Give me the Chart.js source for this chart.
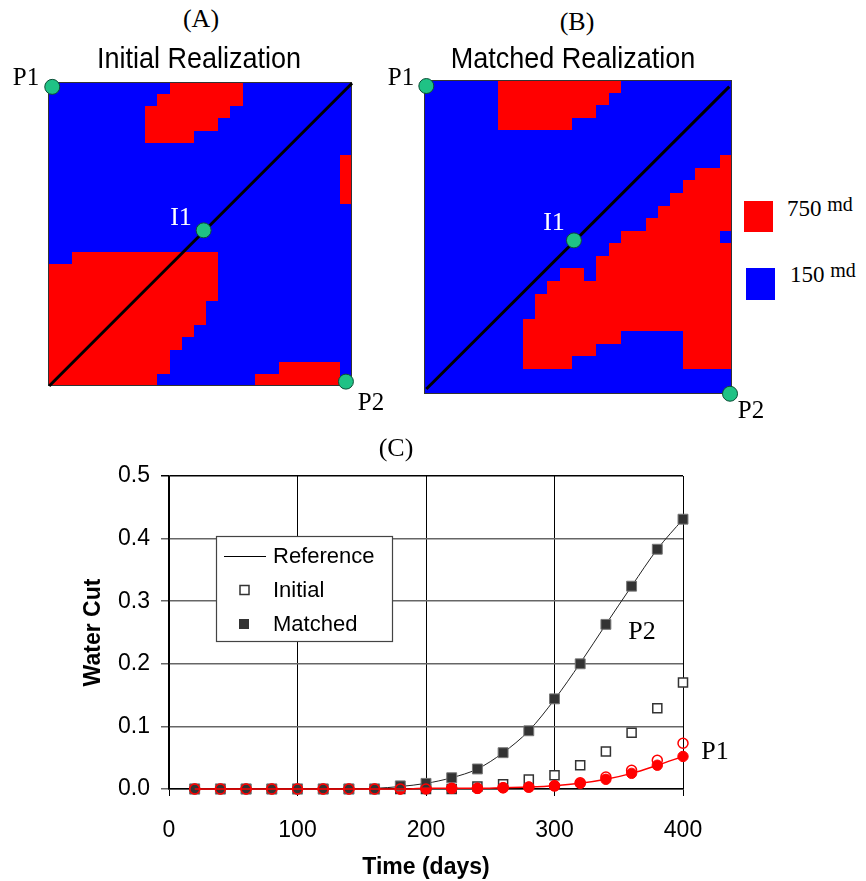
<!DOCTYPE html>
<html><head><meta charset="utf-8">
<script src="https://cdn.jsdelivr.net/npm/chart.js@4.4.1/dist/chart.umd.min.js"></script>
<style>
body{margin:0;background:#fff;width:866px;height:881px;position:relative;overflow:hidden;}
canvas{position:absolute;}
.t{position:absolute;white-space:nowrap;transform:translate(-50%,-50%);line-height:1;color:#000;z-index:5;}
.serif{font-family:"Liberation Serif","Times New Roman",serif;}
.sans{font-family:"Liberation Sans",Arial,sans-serif;}
.sw{position:absolute;}
</style></head><body>
<canvas id="mapA" width="324" height="324" style="left:38px;top:72px"></canvas>
<canvas id="mapB" width="328" height="334" style="left:414px;top:70px"></canvas>
<canvas id="cutC" width="866" height="461" style="left:0;top:420px"></canvas>

<div class="t serif" style="left:201px;top:19px;font-size:26px">(A)</div>
<div class="t sans" style="left:199px;top:58px;font-size:30px;transform:translate(-50%,-50%) scaleX(0.9)">Initial Realization</div>
<div class="t serif" style="left:577px;top:22px;font-size:26px">(B)</div>
<div class="t sans" style="left:573px;top:58px;font-size:30px;transform:translate(-50%,-50%) scaleX(0.9)">Matched Realization</div>
<div class="t serif" style="left:26px;top:76px;font-size:25px">P1</div>
<div class="t serif" style="left:401px;top:76px;font-size:25px">P1</div>
<div class="t serif" style="left:371px;top:401px;font-size:25px">P2</div>
<div class="t serif" style="left:751px;top:409px;font-size:25px">P2</div>
<div class="t serif" style="left:181px;top:217px;font-size:26px;color:#fff">I1</div>
<div class="t serif" style="left:554px;top:222px;font-size:26px;color:#fff">I1</div>
<div class="sw" style="left:744px;top:201px;width:29px;height:31px;background:#ff0000"></div>
<div class="sw" style="left:746px;top:268px;width:29px;height:32px;background:#0000ff"></div>
<div class="t serif" style="left:787px;top:207px;font-size:23px;transform:translate(0,-50%)">750 <span style="font-size:20px;vertical-align:5px">md</span></div>
<div class="t serif" style="left:790px;top:273px;font-size:23px;transform:translate(0,-50%)">150 <span style="font-size:20px;vertical-align:5px">md</span></div>
<div class="t serif" style="left:396px;top:448px;font-size:26px">(C)</div>
<div class="t serif" style="left:642px;top:631px;font-size:26px">P2</div>
<div class="t serif" style="left:715px;top:751px;font-size:26px">P1</div>

<script>
// ---------- permeability fields (row 0 = top), '#' = 750 md, '.' = 150 md ----------
const gridA = [
  "..........######.........",
  ".........#######.........",
  "........#######..........",
  "........######...........",
  "........####.............",
  ".........................",
  "........................#",
  "........................#",
  "........................#",
  "........................#",
  ".........................",
  ".........................",
  ".........................",
  ".........................",
  "..############...........",
  "##############...........",
  "##############...........",
  "##############...........",
  "#############............",
  "#############............",
  "############.............",
  "###########..............",
  "##########...............",
  "##########.........#####.",
  "#########........#######."
];
const gridB = [
  "......##########.........",
  "......#########..........",
  "......########...........",
  "......######.............",
  ".........................",
  ".........................",
  "........................#",
  "......................###",
  ".....................####",
  "....................#####",
  "...................######",
  "..................#######",
  "................########.",
  "...............##########",
  "..............###########",
  "...........##.###########",
  "..........###############",
  ".........################",
  ".........################",
  "........#################",
  "........########.....####",
  "........######.......####",
  "........####.........####",
  ".........................",
  "........................."
];
const permColors = {"#": "#ff0000", ".": "#0000ff"};
const wellsA = [{x:0.35,y:24.6},{x:12.8,y:12.8},{x:24.5,y:0.36}];
const wellsB = [{x:0.19,y:24.52},{x:12.17,y:12.23},{x:24.84,y:0.02}];
const diagA = [{x:0.1,y:0},{x:25,y:24.9}];
const diagB = [{x:0.19,y:0.4},{x:24.78,y:24.47}];

// ---------- water cut curves ----------
const days       = [20,40,60,80,100,120,140,160,180,200,220,240,260,280,300,320,340,360,380,400];
const refP2      = [0,0,0,0,0,0,0,0.001,0.004,0.009,0.018,0.032,0.058,0.093,0.143,0.201,0.263,0.324,0.383,0.431];
const matchedP2  = [0,0,0,0,0,0,0,0,0.005,0.009,0.018,0.032,0.058,0.093,0.144,0.200,0.263,0.324,0.383,0.431];
const initialP2  = [0,0,0,0,0,0,0,0,0,0,0,0.004,0.0075,0.015,0.022,0.038,0.060,0.090,0.129,0.170];
const refP1      = [0,0,0,0,0,0,0,0,0,0.001,0.001,0.001,0.002,0.003,0.005,0.009,0.0155,0.025,0.038,0.052];
const matchedP1  = [0,0,0,0,0,0,0,0,0,0.001,0.001,0.001,0.002,0.003,0.005,0.009,0.0155,0.025,0.038,0.052];
const initialP1  = [0,0,0,0,0,0,0,0,0,0,0.001,0.001,0.002,0.003,0.005,0.010,0.019,0.030,0.046,0.073];
const xTicks = [0,100,200,300,400];
const yTicks = [0,0.1,0.2,0.3,0.4,0.5];
const legendLabels = ["Reference","Initial","Matched"];

Chart.defaults.font.family = '"Liberation Sans", Arial, sans-serif';
Chart.defaults.color = '#000';

const cellsPlugin = {
  id: 'cells',
  beforeDatasetsDraw(chart, args, opts) {
    const g = opts.grid; if (!g) return;
    const {ctx, scales:{x, y}} = chart;
    const n = g.length;
    for (let r = 0; r < n; r++) {
      for (let c = 0; c < g[r].length; c++) {
        const x0 = Math.round(x.getPixelForValue(c)), x1 = Math.round(x.getPixelForValue(c+1));
        const y0 = Math.round(y.getPixelForValue(n - r)), y1 = Math.round(y.getPixelForValue(n - r - 1));
        ctx.fillStyle = permColors[g[r][c]];
        ctx.fillRect(x0, y0, x1 - x0, y1 - y0);
      }
    }
    const a = chart.chartArea;
    ctx.strokeStyle = '#333'; ctx.lineWidth = 1;
    ctx.strokeRect(Math.round(a.left)+0.5, Math.round(a.top)+0.5, Math.round(a.right-a.left)-1, Math.round(a.bottom-a.top)-1);
  }
};

function mapChart(id, grid, wells, diag) {
  return new Chart(document.getElementById(id), {
    type: 'scatter',
    data: { datasets: [
      { data: wells, pointRadius: 7.5, pointBackgroundColor: '#1fc285', pointBorderColor: '#0b4d35', pointBorderWidth: 1, showLine: false, clip: false, order: 1 },
      { data: diag, showLine: true, borderColor: '#000', borderWidth: 3, pointRadius: 0, clip: false, order: 2 }
    ]},
    options: {
      responsive: false, animation: false, devicePixelRatio: 1, events: [],
      layout: { padding: 10 },
      scales: { x: {type:'linear', min:0, max:25, display:false}, y: {type:'linear', min:0, max:25, display:false} },
      plugins: { legend: {display:false}, tooltip: {enabled:false}, cells: { grid } }
    },
    plugins: [cellsPlugin]
  });
}
mapChart('mapA', gridA, wellsA, diagA);
mapChart('mapB', gridB, wellsB, diagB);

const pts = arr => days.map((d, i) => ({x: d, y: arr[i]}));

const legendBox = {
  id: 'legendBox',
  afterDraw(chart) {
    const ctx = chart.ctx;
    const bx = 216, by = 116, bw = 176, bh = 105;
    ctx.save();
    ctx.fillStyle = '#fff'; ctx.fillRect(bx, by, bw, bh);
    ctx.strokeStyle = '#444'; ctx.lineWidth = 1.2; ctx.strokeRect(bx + 0.5, by + 0.5, bw, bh);
    ctx.font = '22px "Liberation Sans", Arial, sans-serif';
    ctx.fillStyle = '#000'; ctx.textBaseline = 'middle'; ctx.textAlign = 'left';
    const rows = [136, 170, 204];
    ctx.strokeStyle = '#000'; ctx.lineWidth = 1;
    ctx.beginPath(); ctx.moveTo(224, rows[0] + 0.5); ctx.lineTo(266, rows[0] + 0.5); ctx.stroke();
    ctx.strokeStyle = '#333'; ctx.lineWidth = 1.5; ctx.fillStyle = '#fff';
    ctx.fillRect(240, rows[1] - 4.5, 9, 9); ctx.strokeRect(240, rows[1] - 4.5, 9, 9);
    ctx.fillStyle = '#333'; ctx.fillRect(239, rows[2] - 5, 10, 10);
    ctx.fillStyle = '#000';
    legendLabels.forEach((t, i) => ctx.fillText(t, 273, rows[i] + 1));
    ctx.restore();
  }
};

new Chart(document.getElementById('cutC'), {
  type: 'scatter',
  data: { datasets: [
    { label: 'Reference P2', data: pts(refP2), showLine: true, borderColor: '#222', borderWidth: 1, pointRadius: 0, cubicInterpolationMode: 'monotone', clip: false, order: 6 },
    { label: 'Initial P2', data: pts(initialP2), showLine: false, pointStyle: 'rect', pointRadius: 6.4, pointBackgroundColor: '#fff', pointBorderColor: '#333', pointBorderWidth: 1.5, clip: false, order: 5 },
    { label: 'Matched P1', data: pts(matchedP1), showLine: false, pointStyle: 'circle', pointRadius: 5.2, pointBackgroundColor: '#ff0000', pointBorderColor: '#ff0000', pointBorderWidth: 1, clip: false, order: 4 },
    { label: 'Matched P2', data: pts(matchedP2), showLine: false, pointStyle: 'rect', pointRadius: 7, pointBackgroundColor: '#333', pointBorderColor: '#777', pointBorderWidth: 1, clip: false, order: 3 },
    { label: 'Initial P1', data: pts(initialP1), showLine: false, pointStyle: 'circle', pointRadius: 5, pointBackgroundColor: 'rgba(0,0,0,0)', pointBorderColor: '#ff0000', pointBorderWidth: 1.5, clip: false, order: 2 },
    { label: 'Reference P1', data: pts(refP1), showLine: true, borderColor: '#ff0000', borderWidth: 1.5, pointRadius: 0, cubicInterpolationMode: 'monotone', clip: false, order: 1 }
  ]},
  options: {
    responsive: false, animation: false, devicePixelRatio: 1, events: [],
    layout: { padding: { left: 0, top: 56, right: 183, bottom: 0 } },
    scales: {
      x: {
        type: 'linear', min: 0, max: 400,
        afterBuildTicks: s => { s.ticks = xTicks.map(v => ({value: v})); },
        afterFit: s => { s.height = 92; },
        grid: { color: '#000', lineWidth: 1, tickLength: 7, tickColor: '#000' },
        border: { color: '#000', width: 1.5 },
        ticks: { color: '#000', font: { size: 23 }, padding: 21, maxRotation: 0 },
        title: { display: true, text: 'Time (days)', color: '#000', font: { size: 23, weight: 'bold' }, padding: { top: 0, bottom: 0 } }
      },
      y: {
        type: 'linear', min: 0, max: 0.5,
        afterBuildTicks: s => { s.ticks = yTicks.map(v => ({value: v})); },
        afterFit: s => { s.width = 169; },
        grid: { color: c => (c.tick && c.tick.value >= 0.5 ? '#000' : '#666'), lineWidth: 1.5, tickLength: 8 },
        border: { color: '#000', width: 1.5 },
        ticks: { color: '#000', font: { size: 23 }, padding: 11, callback: v => v.toFixed(1) },
        title: { display: true, text: 'Water Cut', color: '#000', font: { size: 23, weight: 'bold' }, padding: { top: 80, bottom: 0 } }
      }
    },
    plugins: { legend: { display: false }, tooltip: { enabled: false } }
  },
  plugins: [legendBox]
});
</script>
</body></html>
